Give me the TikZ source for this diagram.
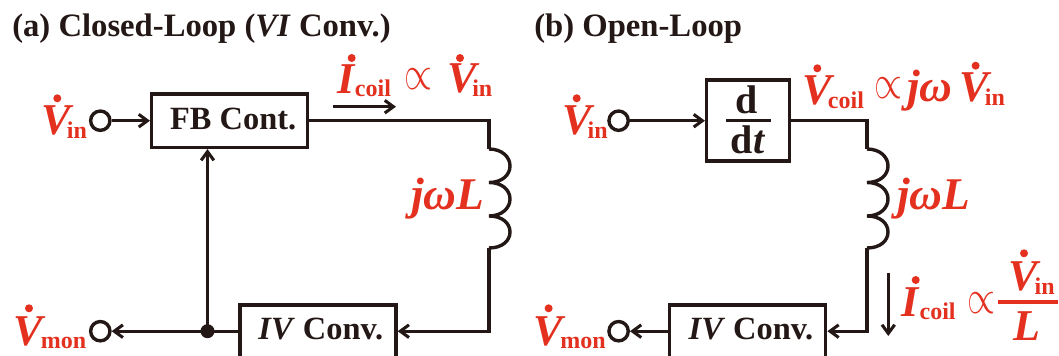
\documentclass[tikz,border=0pt]{standalone}
\usepackage{amsmath}
\usepackage{amssymb}
\usepackage{fontspec}
\setmainfont{Liberation Serif}
\usepackage{tikz}
\usetikzlibrary{arrows.meta}
\definecolor{labelred}{HTML}{E3301F}
\definecolor{inkblack}{HTML}{231815}
\newcommand{\bigsz}{\fontsize{33}{35}\selectfont}
\newcommand{\subsz}{\fontsize{18}{20}\selectfont}
\newcommand{\boxsz}{\fontsize{24.3}{26}\selectfont}
\newcommand{\ddtsz}{\fontsize{30}{32}\selectfont}
\newcommand{\ttlsz}{\fontsize{24.5}{26}\selectfont}
\newcommand{\jwsz}{\fontsize{34}{36}\selectfont}
\newcommand{\letsub}[3]{\textit{#1}\kern#3\raisebox{-2.7pt}{\subsz #2}}
\newcommand{\propsym}{\scalebox{1.08}[1.45]{$\propto$}}
\tikzset{
  wire/.style={draw=inkblack,line width=2.55pt,line join=miter},
  tip/.style={wire,-{Straight Barb[length=6.5pt,width=9.5pt,line width=2.3pt]}},
  block/.style={draw=inkblack,line width=2.55pt,fill=white,inner sep=0pt},
  port/.style={circle,draw=inkblack,line width=2.55pt,fill=white,minimum size=14.5pt,inner sep=0pt},
  redtext/.style={text=labelred,inner sep=0pt,anchor=base west,font=\bfseries\bigsz},
  blacktext/.style={text=inkblack,inner sep=0pt,font=\bfseries},
  proptext/.style={text=labelred,inner sep=0pt,font=\fontsize{25}{26}\selectfont},
  dotmark/.style={fill=labelred,draw=none},
}
\begin{document}
\begin{tikzpicture}[x=0.75pt,y=0.75pt,yscale=-1,xscale=1]
\useasboundingbox (0,0) rectangle (1059,356);
% left
\node [blacktext,anchor=base west,font=\bfseries\ttlsz] (titleA) at (12,37) {(a) Closed-Loop (\textit{VI} Conv.)};
\node [block,minimum width=116.7pt,minimum height=40pt] (fbA) at (229.5,120.7) {};
\node [blacktext,anchor=base,font=\bfseries\boxsz] (fbAtext) at (233.2,129.3) {FB Cont.};
\node [block,minimum width=117pt,minimum height=39.5pt] (ivA) at (318,331.2) {};
\node [blacktext,anchor=base,font=\bfseries\boxsz] (ivAtext) at (320.8,339.3) {\textit{IV} Conv.};
\node [port] (vinA) at (100.3,120.7) {};
\node [port] (vmonA) at (100.3,331.2) {};
\coordinate (cornerA) at (489,120.7);
\coordinate (coilAtop) at (489,149);
\coordinate (coilAend) at (489,248);
\coordinate (cornerAb) at (489,331.2);
\coordinate (jointA) at (207.5,331.2);
\draw [tip] (vinA) -- (fbA);
\draw [wire] (fbA) -- (cornerA) -- (coilAtop);
\draw [wire] (coilAtop) .. controls (502,149) and (510,157) .. (510,166) .. controls (510,175) and (502,182.5) .. (489,182.5) .. controls (502,182.5) and (510,190) .. (510,199) .. controls (510,208) and (502,216) .. (489,216) .. controls (502,216) and (510,223) .. (510,232) .. controls (510,241) and (502,248) .. (489,248) ;
\draw [tip] (coilAend) -- (cornerAb) -- (ivA);
\draw [tip] (ivA) -- (vmonA);
\draw [tip] (jointA) -- (fbA.south -| jointA);
\fill [inkblack] (jointA) circle (7);
\coordinate (flowAa) at (332.7,106.7);
\coordinate (flowAb) at (396,106.7);
\draw [tip] (flowAa) -- (flowAb);
\node [redtext] (vinAtext) at (41,135) {\letsub{V}{in}{-5pt}};
\fill [dotmark] (57.3,98.3) circle (4);
\node [redtext] (icoilAtext) at (337,93.3) {\letsub{I}{coil}{-0.5pt}};
\fill [dotmark] (351.7,58) circle (4);
\node [proptext] (propA) at (418,79.5) {\propsym};
\node [redtext] (vinAbtext) at (447,93) {\letsub{V}{in}{-5.5pt}};
\fill [dotmark] (460,58) circle (4);
\node [redtext,font=\bfseries\jwsz] (coilAtext) at (411,209) {\textit{jωL}};
\node [redtext] (vmonAtext) at (13.7,345) {\letsub{V}{mon}{-4pt}};
\fill [dotmark] (29,308.3) circle (4);
% right
\node [blacktext,anchor=base west,font=\bfseries\ttlsz] (titleB) at (534,37) {(b) Open-Loop};
\node [block,minimum width=62pt,minimum height=60.75pt] (ddtB) at (748,120.7) {};
\node [blacktext,anchor=base,font=\bfseries\ddtsz] (ddtBa) at (746.5,114) {d};
\node [blacktext,anchor=base,font=\bfseries\ddtsz] (ddtBb) at (748,154) {d\textit{t}};
\coordinate (barBa) at (726,120.7);
\coordinate (barBb) at (770.7,120.7);
\draw [wire] (barBa) -- (barBb);
\node [block,minimum width=117pt,minimum height=39.5pt] (ivB) at (747.7,331.2) {};
\node [blacktext,anchor=base,font=\bfseries\boxsz] (ivBtext) at (751,339.3) {\textit{IV} Conv.};
\node [port] (vinB) at (618.6,120.7) {};
\node [port] (vmonB) at (618.6,331.2) {};
\coordinate (cornerB) at (867,120.7);
\coordinate (coilBtop) at (867,149);
\coordinate (coilBend) at (867,248);
\coordinate (cornerBb) at (867,331.2);
\draw [tip] (vinB) -- (ddtB);
\draw [wire] (ddtB) -- (cornerB) -- (coilBtop);
\draw [wire] (coilBtop) .. controls (880,149) and (888,157) .. (888,166) .. controls (888,175) and (880,182.5) .. (867,182.5) .. controls (880,182.5) and (888,190) .. (888,199) .. controls (888,208) and (880,216) .. (867,216) .. controls (880,216) and (888,223) .. (888,232) .. controls (888,241) and (880,248) .. (867,248) ;
\draw [tip] (coilBend) -- (cornerBb) -- (ivB);
\draw [tip] (ivB) -- (vmonB);
\coordinate (flowBa) at (888.3,272.7);
\coordinate (flowBb) at (888.3,336);
\draw [tip] (flowBa) -- (flowBb);
\node [redtext] (vinBtext) at (561.8,135) {\letsub{V}{in}{-5pt}};
\fill [dotmark] (576.7,98.3) circle (4);
\node [redtext] (vcoilBtext) at (802,105) {\letsub{V}{coil}{-5pt}};
\fill [dotmark] (817.3,68.3) circle (4);
\node [proptext] (propB) at (888.3,88.5) {\propsym};
\node [redtext,font=\bfseries\jwsz] (jwB) at (907,102) {\textit{jω}};
\node [redtext] (vinBbtext) at (959,102) {\letsub{V}{in}{-5pt}};
\fill [dotmark] (975.6,65.7) circle (4);
\node [redtext,font=\bfseries\jwsz] (coilBtext) at (897,209) {\textit{jωL}};
\node [redtext] (icoilBtext) at (901,316) {\letsub{I}{coil}{0pt}};
\fill [dotmark] (915.7,280) circle (4);
\node [proptext] (propC) at (981.7,303.3) {\propsym};
\coordinate (fracCa) at (998.3,302);
\coordinate (fracCb) at (1058.3,302);
\draw [labelred,line width=2.6pt] (fracCa) -- (fracCb);
\node [redtext] (vinCtext) at (1008.7,290.7) {\letsub{V}{in}{-5pt}};
\fill [dotmark] (1024,253.3) circle (4);
\node [redtext] (fracL) at (1013,340) {\textit{L}};
\node [redtext] (vmonBtext) at (533,345) {\letsub{V}{mon}{-4pt}};
\fill [dotmark] (548.6,308.3) circle (4);
\end{tikzpicture}
\end{document}
